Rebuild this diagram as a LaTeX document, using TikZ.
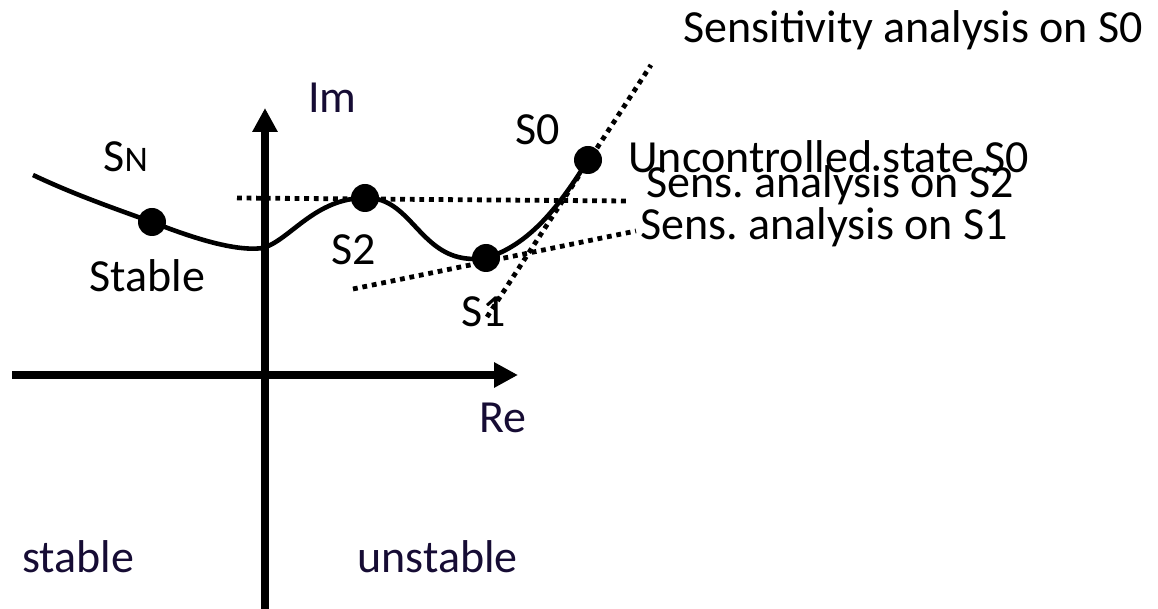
\documentclass[tikz,border=0pt]{standalone}
\usepackage{fontspec}
\setmainfont{Carlito}
\usetikzlibrary{arrows.meta}
\definecolor{axisnavy}{RGB}{22,12,52}
\frenchspacing
\tikzset{
  lbl/.style={anchor=base west, inner sep=0pt, font=\fontsize{23}{27}\selectfont},
  navylbl/.style={lbl, text=axisnavy},
  statedot/.style={circle, fill=black, inner sep=0pt, minimum size=14pt},
  sensline/.style={line width=2.4pt, dash pattern=on 2.4pt off 2.4pt},
  locus/.style={line width=2.3pt},
  axisline/.style={line width=3.6pt, ->},
}
\begin{document}
\begin{tikzpicture}[x=0.5pt, y=-0.5pt, >={Triangle[length=12pt,width=12pt]}]
  \useasboundingbox (0,0) rectangle (1158,609);
  % axes
  \coordinate (reL) at (12,375);
  \coordinate (reR) at (518,375);
  \coordinate (imB) at (265,609);
  \coordinate (imT) at (265,108);
  \draw[axisline] (reL) -- (reR);
  \draw[axisline] (imB) -- (imT);
  \node[navylbl] (im) at (308,113) {Im};
  \node[navylbl] (re) at (479,433) {Re};
  \node[navylbl] (stab) at (22,573) {stable};
  \node[navylbl] (unstab) at (357,573) {unstable};
  % states on the locus
  \node[statedot] (sN) at (152,222) {};
  \node[statedot] (s2) at (365,198) {};
  \node[statedot] (s1) at (486,258) {};
  \node[statedot] (s0) at (588,160) {};
  % sensitivity lines
  \coordinate (s2a) at (237,198);
  \coordinate (s2b) at (627,201);
  \coordinate (s1a) at (353,289);
  \coordinate (s1b) at (636,231);
  \coordinate (s0a) at (487,317);
  \coordinate (s0b) at (651,65);
  \draw[sensline] (s2a) -- (s2b);
  \draw[sensline] (s1a) -- (s1b);
  \draw[sensline] (s0a) -- (s0b);
  % locus
  \coordinate (start) at (33,175);
  \coordinate (dip) at (263,248);
  \draw[locus] (start) .. controls (73,194) and (113,208) .. (sN.center)
    .. controls (190,237) and (235,252) .. (dip)
    .. controls (290,240) and (315,198) .. (s2.center)
    .. controls (415,196) and (420,268) .. (s1.center)
    .. controls (530,245) and (560,205) .. (s0.center);
  % labels
  \node[lbl] (sNlbl) at (103,172) {S{\fontsize{18}{21}\selectfont N}};
  \node[lbl] (stable) at (89,292) {Stable};
  \node[lbl] (s2lbl) at (331,265) {S2};
  \node[lbl] (s1lbl) at (461,327) {S1};
  \node[lbl] (s0lbl) at (515,145) {S0};
  \node[lbl] (unctrl) at (628,173) {Uncontrolled state S0};
  \node[lbl] (sens2) at (646,198) {Sens. analysis on S2};
  \node[lbl] (sens1) at (640,240) {Sens. analysis on S1};
  \node[lbl] (sens0) at (683,43) {Sensitivity analysis on S0};
\end{tikzpicture}
\end{document}
